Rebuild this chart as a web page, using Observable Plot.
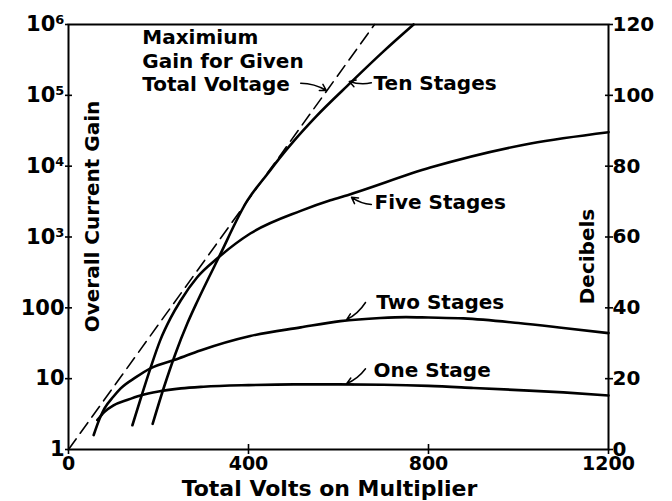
<!DOCTYPE html>
<html>
<head>
<meta charset="utf-8">
<script src="https://cdn.jsdelivr.net/npm/d3@7"></script>
<script src="https://cdn.jsdelivr.net/npm/@observablehq/plot@0.6"></script>
<style>
  html, body { margin: 0; padding: 0; background: #fff; }
</style>
</head>
<body>
<div id="chart"></div>
<script>
// ---- Data ----
const xTicks = [0, 400, 800, 1200];
const yTicks = [1, 10, 100, 1e3, 1e4, 1e5, 1e6];
const yTickLabels = ["1", "10", "100", "10³", "10⁴", "10⁵", "10⁶"];
const dbTickLabels = ["0", "20", "40", "60", "80", "100", "120"];

// Maximum gain for given total voltage (dashed)
const maxVolts = [0, 680];
const maxGain = [1, 1e6];

const oneStageVolts = [64, 80, 100, 130, 160, 200, 250, 300, 400, 500, 600, 700, 800, 900, 1000, 1100, 1200];
const oneStageGain  = [2.6, 3.4, 4.2, 5.0, 5.8, 6.6, 7.3, 7.7, 8.1, 8.3, 8.3, 8.2, 7.9, 7.4, 6.9, 6.4, 5.8];

const twoStageVolts = [56, 70, 80, 100, 116, 150, 182, 242, 293, 404, 516, 604, 693, 750, 800, 878, 1000, 1100, 1200];
const twoStageGain  = [1.6, 2.8, 3.8, 5.6, 7.3, 10.5, 14, 19, 25, 40, 53, 65, 72, 74, 73, 71, 61, 52, 44];

const fiveStageVolts = [142, 164, 182, 204, 227, 249, 286, 333, 404, 516, 582, 620, 804, 1027, 1200];
const fiveStageGain  = [2.2, 6.2, 14, 35, 72, 126, 270, 513, 1120, 2340, 3300, 3900, 9550, 20900, 30200];

const tenStageVolts = [187, 211, 238, 264, 287, 333, 398, 442, 470, 500, 550, 627, 700, 767];
const tenStageGain  = [2.3, 7.2, 22.9, 60, 126, 501, 3311, 7760, 13200, 22400, 50100, 151000, 417000, 1e6];

const labelText  = ["Maximium", "Gain for Given", "Total Voltage", "Ten Stages", "Five Stages", "Two Stages", "One Stage"];
const labelVolts = [164, 164, 164, 678, 680, 684, 678];
const labelGain  = [6.6e5, 3.0e5, 1.42e5, 1.48e5, 3090, 119, 13];

const arrowV1 = [516, 673, 673, 660, 660];
const arrowG1 = [1.48e5, 1.5e5, 2880, 119, 13.8];
const arrowV2 = [573, 624, 629, 618, 618];
const arrowG2 = [1.17e5, 1.57e5, 3630, 68, 8.5];

// ---- Build tables ----
const zip = (xs, ys) => xs.map((x, i) => ({x, y: ys[i]}));
const series = [
  zip(oneStageVolts, oneStageGain),
  zip(twoStageVolts, twoStageGain),
  zip(fiveStageVolts, fiveStageGain),
  zip(tenStageVolts, tenStageGain)
];
const maxLine = zip(maxVolts, maxGain);
const labels = labelText.map((t, i) => ({text: t, x: labelVolts[i], y: labelGain[i]}));
const arrows = arrowV1.map((v, i) => ({x1: v, y1: arrowG1[i], x2: arrowV2[i], y2: arrowG2[i]}));

const font = "DejaVu Sans";

const chart = Plot.plot({
  width: 672,
  height: 501,
  marginLeft: 68,
  marginRight: 64,
  marginTop: 24,
  marginBottom: 52,
  style: {fontFamily: font, fontWeight: "bold", fontSize: "19px", color: "black", background: "white"},
  x: {domain: [0, 1200]},
  y: {type: "log", domain: [1, 1e6]},
  marks: [
    // axes with "+"-style ticks
    Plot.axisX({ticks: xTicks, tickSize: 5, tickPadding: 2, tickFormat: d => String(d), label: null, strokeWidth: 1.6, fontSize: 19}),
    Plot.axisX({ticks: xTicks.slice(1, 3), tickSize: -5, text: null, label: null, strokeWidth: 1.6}),
    Plot.axisY({ticks: yTicks, tickSize: 3, tickPadding: 1, tickFormat: d => yTickLabels[yTicks.indexOf(d)], label: null, strokeWidth: 1.6, fontSize: 21}),
    Plot.axisY({ticks: yTicks.slice(1, 6), tickSize: -4, text: null, label: null, strokeWidth: 1.6}),
    Plot.axisY({anchor: "right", ticks: yTicks, tickSize: 4, tickPadding: 0, tickFormat: d => dbTickLabels[yTicks.indexOf(d)], label: null, strokeWidth: 1.6, fontSize: 20}),
    Plot.axisY({anchor: "right", ticks: yTicks.slice(1, 6), tickSize: -4, text: null, label: null, strokeWidth: 1.6}),
    Plot.frame({stroke: "black", strokeWidth: 2}),
    // dashed max-gain line
    Plot.line(maxLine, {x: "x", y: "y", stroke: "black", strokeWidth: 1.6, strokeDasharray: "13,7"}),
    // stage curves
    ...series.map(s => Plot.line(s, {x: "x", y: "y", stroke: "black", strokeWidth: 2.6, curve: "monotone-x"})),
    // annotations
    Plot.text(labels, {x: "x", y: "y", text: "text", textAnchor: "start", fontSize: 20, fill: "black"}),
    Plot.arrow(arrows, {x1: "x1", y1: "y1", x2: "x2", y2: "y2", bend: 15, headLength: 7, strokeWidth: 1.5, stroke: "black"}),
    // axis titles
    Plot.text(["Overall Current Gain"], {frameAnchor: "left", textAnchor: "middle", lineAnchor: "middle", dx: 24, dy: -20.5, rotate: -90, text: d => d, fontSize: 20, fill: "black"}),
    Plot.text(["Decibels"], {frameAnchor: "right", textAnchor: "middle", lineAnchor: "middle", dx: -21, dy: 19.5, rotate: -90, text: d => d, fontSize: 20, fill: "black"}),
    Plot.text(["Total Volts on Multiplier"], {frameAnchor: "bottom", textAnchor: "middle", lineAnchor: "middle", dx: -9, dy: 39, text: d => d, fontSize: 22, fill: "black"})
  ]
});
document.getElementById("chart").appendChild(chart);
</script>
</body>
</html>
